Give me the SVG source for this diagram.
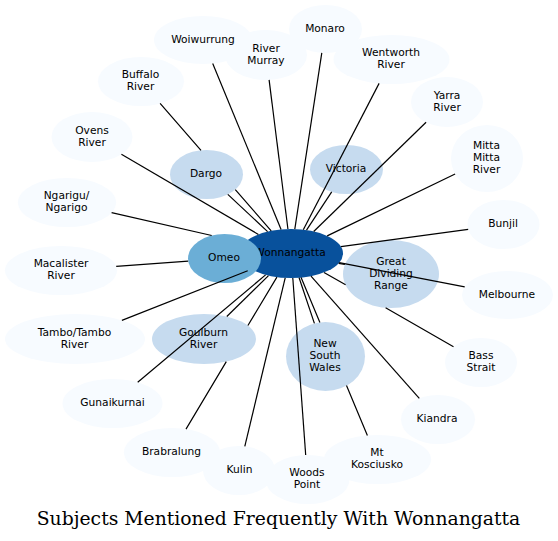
<svg xmlns="http://www.w3.org/2000/svg" width="558" height="541" viewBox="0 0 558 541">
<style>
.n text{font-family:"DejaVu Sans",Verdana,sans-serif;font-size:10.67px;fill:#000;text-anchor:middle}
.l ellipse{fill:#f7fbff}
.m ellipse{fill:#c6dbef}
#edges path{stroke:#000;stroke-width:1.2;fill:none}
.title{font-family:"DejaVu Serif",serif;font-size:18.8px;fill:#000;text-anchor:middle}
</style>
<rect width="558" height="541" fill="#fff"/>
<g id="nodes">
<g id="river-murray" class="n l"><ellipse cx="266" cy="55" rx="41" ry="25"/><text x="266" y="51.5">River</text><text x="266" y="63.5">Murray</text></g>
<g id="woiwurrung" class="n l"><ellipse cx="203" cy="40" rx="49" ry="24"/><text x="203" y="42.5">Woiwurrung</text></g>
<g id="monaro" class="n l"><ellipse cx="325.5" cy="29" rx="36.5" ry="24"/><text x="325" y="31.5">Monaro</text></g>
<g id="wentworth-river" class="n l"><ellipse cx="391.5" cy="59.5" rx="58" ry="24.5"/><text x="391" y="56">Wentworth</text><text x="391" y="68">River</text></g>
<g id="buffalo-river" class="n l"><ellipse cx="141" cy="81.5" rx="43" ry="24.5"/><text x="140.5" y="78">Buffalo</text><text x="140.5" y="90">River</text></g>
<g id="yarra-river" class="n l"><ellipse cx="447" cy="102" rx="36" ry="25"/><text x="447" y="98.5">Yarra</text><text x="447" y="110.5">River</text></g>
<g id="ovens-river" class="n l"><ellipse cx="92" cy="137" rx="40.5" ry="25"/><text x="92" y="133.5">Ovens</text><text x="92" y="145.5">River</text></g>
<g id="mitta-mitta-river" class="n l"><ellipse cx="487" cy="158.5" rx="36" ry="33.5"/><text x="486.5" y="149">Mitta</text><text x="486.5" y="161">Mitta</text><text x="486.5" y="173">River</text></g>
<g id="ngarigu" class="n l"><ellipse cx="67" cy="202.5" rx="49" ry="24.5"/><text x="66.5" y="199">Ngarigu/</text><text x="66.5" y="211">Ngarigo</text></g>
<g id="bunjil" class="n l"><ellipse cx="503.5" cy="224.5" rx="36" ry="24.5"/><text x="503" y="227">Bunjil</text></g>
<g id="macalister-river" class="n l"><ellipse cx="61" cy="270.5" rx="56" ry="24.5"/><text x="61" y="267">Macalister</text><text x="61" y="279">River</text></g>
<g id="melbourne" class="n l"><ellipse cx="507.5" cy="295" rx="45.5" ry="24"/><text x="507" y="297.5">Melbourne</text></g>
<g id="tambo-river" class="n l"><ellipse cx="75" cy="339" rx="70" ry="25"/><text x="74.5" y="335.5">Tambo/Tambo</text><text x="74.5" y="347.5">River</text></g>
<g id="bass-strait" class="n l"><ellipse cx="481" cy="362.5" rx="36" ry="24.5"/><text x="481" y="359">Bass</text><text x="481" y="371">Strait</text></g>
<g id="gunaikurnai" class="n l"><ellipse cx="112.5" cy="403.5" rx="50" ry="24.5"/><text x="112.5" y="406">Gunaikurnai</text></g>
<g id="kiandra" class="n l"><ellipse cx="438" cy="419.5" rx="37" ry="24.5"/><text x="437" y="422">Kiandra</text></g>
<g id="brabralung" class="n l"><ellipse cx="172" cy="452.5" rx="48" ry="24.5"/><text x="171.5" y="455">Brabralung</text></g>
<g id="mt-kosciusko" class="n l"><ellipse cx="377.5" cy="459.5" rx="53.5" ry="24.5"/><text x="377" y="456">Mt</text><text x="377" y="468">Kosciusko</text></g>
<g id="kulin" class="n l"><ellipse cx="239" cy="470.5" rx="36" ry="24.5"/><text x="239.5" y="473">Kulin</text></g>
<g id="woods-point" class="n l"><ellipse cx="307.5" cy="479.5" rx="42" ry="24.5"/><text x="307" y="476">Woods</text><text x="307" y="488">Point</text></g>
<g id="dargo" class="n m"><ellipse cx="206.5" cy="174.5" rx="36.5" ry="24.5"/><text x="206" y="177">Dargo</text></g>
<g id="victoria" class="n m"><ellipse cx="346.5" cy="169.5" rx="36.5" ry="24.5"/><text x="346" y="172">Victoria</text></g>
<g id="great-dividing-range" class="n m"><ellipse cx="391" cy="274" rx="48" ry="34"/><text x="391" y="264.5">Great</text><text x="391" y="276.5">Dividing</text><text x="391" y="288.5">Range</text></g>
<g id="goulburn-river" class="n m"><ellipse cx="204" cy="339" rx="52" ry="25"/><text x="203.5" y="335.5">Goulburn</text><text x="203.5" y="347.5">River</text></g>
<g id="new-south-wales" class="n m"><ellipse cx="325.5" cy="356.5" rx="39.5" ry="34.5"/><text x="325" y="347">New</text><text x="325" y="359">South</text><text x="325" y="371">Wales</text></g>
<g id="wonnangatta" class="n"><ellipse cx="291" cy="253.5" rx="52" ry="24.5" fill="#08519c"/><text x="290" y="256">Wonnangatta</text></g>
<g id="omeo" class="n"><ellipse cx="224.5" cy="258.5" rx="36.5" ry="24.5" fill="#6baed6"/><text x="224" y="261">Omeo</text></g>
</g>
<g id="edges">
<path d="M212.7,63.5L281.1,229.4"/>
<path d="M269.1,79.9L287.9,229"/>
<path d="M321.8,52.9L294.8,229.1"/>
<path d="M379.1,83.4L303.3,229.7"/>
<path d="M160.1,103.4L201,150.3M235.3,189.6L271.2,230.8"/>
<path d="M426.1,122.3L313.7,231.5"/>
<path d="M121.4,154.2L258.4,234.4"/>
<path d="M455.1,174L327.2,235.9"/>
<path d="M227.8,194.4L267.6,231.6"/>
<path d="M331.7,191.9L306.5,230.1"/>
<path d="M111.6,212.7L211.7,235.5"/>
<path d="M468.2,229.3L340.9,246.7"/>
<path d="M344.9,264.5L338.7,263.3"/>
<path d="M116.2,266.4L188.2,261.1"/>
<path d="M464.7,286.8L339.2,262.7"/>
<path d="M121.9,320.4L247.7,270.7"/>
<path d="M226.8,316.5L268.5,275.6"/>
<path d="M314.4,323.4L299.1,277.7"/>
<path d="M453.5,346.7L385.6,307.8M345.6,284.8L324,272.4"/>
<path d="M137.7,382.3L265.6,274.9"/>
<path d="M419.3,398.4L311,276.1"/>
<path d="M186,429.1L226.3,361.6M247.9,325.5L276.9,277.1"/>
<path d="M367.4,435.4L346.5,385.6M319.9,322.4L301.1,277.5"/>
<path d="M244.8,446.3L285.2,277.8"/>
<path d="M305.7,455L292.8,278"/>
</g>
<text class="title" x="278.5" y="525">Subjects Mentioned Frequently With Wonnangatta</text>
</svg>
